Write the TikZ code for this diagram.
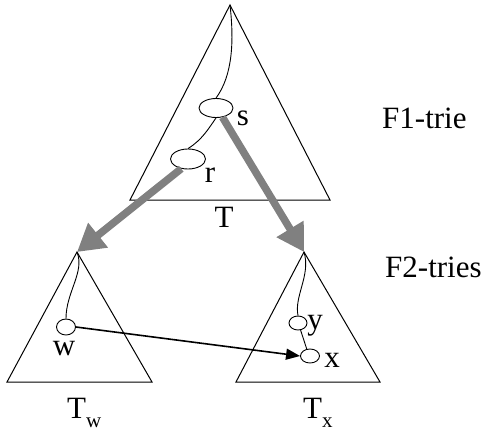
\documentclass[tikz,border=0pt]{standalone}
\usepackage{fontspec}
\setmainfont{Liberation Serif}
\usetikzlibrary{shapes.geometric,arrows.meta}
\begin{document}
\begin{tikzpicture}[x=1pt,y=-1pt,
  tri/.style={draw=black,line width=1pt,line join=miter},
  nd/.style={ellipse,draw=black,line width=0.9pt,inner sep=0pt,fill=white},
  lbl/.style={anchor=base,inner sep=0pt,font=\fontsize{31}{31}\selectfont},
  edge/.style={draw=black,line width=0.9pt},
  grayarrow/.style={draw={rgb,255:red,128;green,128;blue,128},line width=7.5pt,
     -{Triangle[width=30pt,length=27pt,fill={rgb,255:red,128;green,128;blue,128}]}},
  ptr/.style={draw=black,line width=1.6pt,-{Triangle[width=11pt,length=14pt]}}
]
\useasboundingbox (0,0) rectangle (485,432);
% triangles
\coordinate (Ta) at (230,5);
\coordinate (Tl) at (130,200);
\coordinate (Tr) at (330,200);
\coordinate (Wa) at (77,252);
\coordinate (Wl) at (7,382);
\coordinate (Wr) at (152,382);
\coordinate (Xa) at (304,252);
\coordinate (Xl) at (236,382);
\coordinate (Xr) at (380,382);
\draw[tri] (Ta) -- (Tl) -- (Tr) -- cycle;
\draw[tri] (Wa) -- (Wl) -- (Wr) -- cycle;
\draw[tri] (Xa) -- (Xl) -- (Xr) -- cycle;
% nodes
\node[nd,minimum width=34pt,minimum height=19pt] (s) at (216,108) {};
\node[nd,minimum width=35pt,minimum height=20pt] (r) at (188,159) {};
\node[nd,minimum width=19pt,minimum height=16pt] (w) at (66,327) {};
\node[nd,minimum width=18pt,minimum height=14pt] (y) at (298,323) {};
\node[nd,minimum width=19pt,minimum height=14pt] (x) at (310,356) {};
% paths
\draw[edge] (Ta) .. controls (234,40) and (233,75) .. (s.north);
\draw[edge] (s.south) .. controls (209,128) and (202,140) .. (r.north);
\draw[edge] (Wa) .. controls (85,272) and (66,292) .. (w.north);
\draw[edge] (Xa) .. controls (311,275) and (294,296) .. (y.north);
\draw[edge] (y.-70) -- (x.115);
% arrows
\draw[grayarrow] (s.-55) -- (Xa);
\draw[grayarrow] (r.-125) -- (Wa);
\draw[ptr] (w.east) -- (x.west);
% labels
\node[lbl] (ls) at (243,125) {s};
\node[lbl] (lr) at (210,182) {r};
\node[lbl] (lw) at (64,355) {w};
\node[lbl] (ly) at (315,329) {y};
\node[lbl] (lx) at (332,367) {x};
\node[lbl] (lT) at (224,227) {T};
\node[lbl,anchor=base west] (lTw) at (67,418) {T\raisebox{-9pt}{\fontsize{21}{21}\selectfont w}};
\node[lbl,anchor=base west] (lTx) at (303,418) {T\raisebox{-9pt}{\fontsize{21}{21}\selectfont x}};
\node[lbl,anchor=base west] (f1) at (382,128) {F1-trie};
\node[lbl,anchor=base west] (f2) at (385,277) {F2-tries};
\end{tikzpicture}
\end{document}
